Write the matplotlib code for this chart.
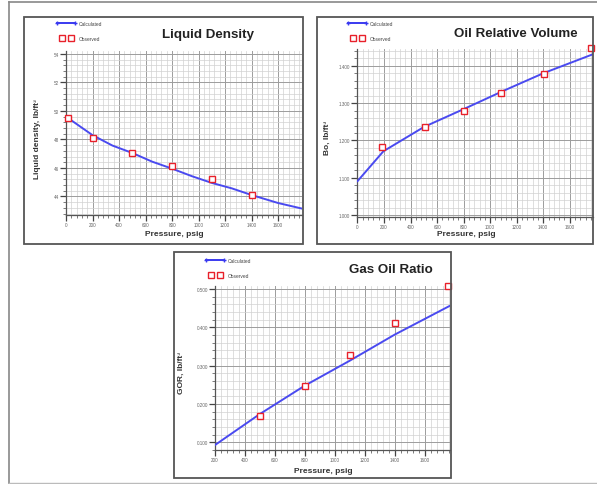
import numpy as np
import matplotlib
matplotlib.use("Agg")
import matplotlib.pyplot as plt
from matplotlib.patches import Rectangle
from matplotlib.lines import Line2D
from matplotlib.legend_handler import HandlerLine2D
from matplotlib.ticker import MultipleLocator, FormatStrFormatter

plt.rcParams['font.family'] = ['Liberation Sans', 'DejaVu Sans']

# liquid density
dens_obs_p = [15, 200, 500, 800, 1100, 1400]
dens_obs = [49.5, 48.1, 47.05, 46.15, 45.2, 44.1]
dens_calc_p = [15, 200, 350, 500, 650, 800, 950, 1100, 1250, 1400, 1600, 1780]
dens_calc = [49.5, 48.3, 47.57, 47.05, 46.44, 45.95, 45.42, 44.95, 44.57, 44.1, 43.54, 43.15]

# oil relative volume
bo_obs_p = [185, 505, 800, 1085, 1405, 1757]
bo_obs = [1.182, 1.237, 1.278, 1.326, 1.379, 1.449]
bo_calc_p = [0, 195, 500, 800, 1100, 1400, 1775]
bo_calc = [1.091, 1.171, 1.236, 1.284, 1.333, 1.380, 1.431]

# gas oil ratio
gor_obs_p = [500, 800, 1100, 1400, 1757]
gor_obs = [0.1695, 0.2477, 0.3286, 0.4105, 0.507]
gor_calc_p = [200, 500, 800, 1100, 1400, 1770]
gor_calc = [0.093, 0.174, 0.248, 0.313, 0.381, 0.4565]

W, H = 597, 485


def frac(x0, y0, x1, y1):
    # pixel box -> figure fraction
    return [x0 / W, 1 - y1 / H, (x1 - x0) / W, (y1 - y0) / H]


def panel(fig, box, axbox, px, py, cp, cy, xlim, ylim, ymaj, fmt,
          title, tpos, ylabel, ylab_pos, xlab_pos, leg_pos):
    fig.patches.append(Rectangle((box[0] / W, 1 - box[3] / H),
                                 (box[2] - box[0]) / W, (box[3] - box[1]) / H,
                                 transform=fig.transFigure, fill=False,
                                 edgecolor='#555555', linewidth=1.3))
    ax = fig.add_axes(frac(*axbox))
    ax.set_xlim(*xlim)
    ax.set_ylim(*ylim)
    ax.xaxis.set_major_locator(MultipleLocator(200))
    ax.xaxis.set_minor_locator(MultipleLocator(40))
    ax.yaxis.set_major_locator(MultipleLocator(ymaj))
    ax.yaxis.set_minor_locator(MultipleLocator(ymaj / 5))
    ax.yaxis.set_major_formatter(FormatStrFormatter(fmt))
    ax.grid(which='major', color='#9c9c9c', linewidth=0.7)
    ax.grid(which='minor', color='#d2d2d2', linewidth=0.5)
    ax.set_axisbelow(True)
    for s in ['top', 'right']:
        ax.spines[s].set_visible(False)
    for s in ['left', 'bottom']:
        ax.spines[s].set_color('#555555')
        ax.spines[s].set_linewidth(0.9)
    ax.tick_params(which='major', length=4, width=0.9, color='#444444',
                   labelsize=3.3, labelcolor='#666666', pad=1.2)
    ax.tick_params(which='minor', length=2, width=0.6, color='#666666')

    ax.plot(cp, cy, color='#4a4af0', linewidth=1.4, zorder=3)
    ax.plot(px, py, linestyle='none', marker='s', markersize=4.8,
            markerfacecolor='white', markeredgecolor='#e8202a',
            markeredgewidth=1.0, zorder=4, clip_on=False)

    ax.set_xlabel('Pressure, psig', fontsize=6, fontweight='bold', color='#333333')
    ax.xaxis.set_label_coords(*xlab_pos)
    ax.xaxis.label.set_va('center')
    ax.set_ylabel(ylabel, fontsize=6, fontweight='bold', color='#333333')
    ax.yaxis.set_label_coords(*ylab_pos)
    ax.yaxis.label.set_va('center')

    fig.text(tpos[0] / W, 1 - tpos[1] / H, title, fontsize=9.6,
             fontweight='bold', color='#222222', ha='center', va='center')

    calc_h = Line2D([], [], color='#3a3af0', linewidth=1.4, marker='+',
                    markersize=3)
    obs_h = Line2D([], [], linestyle='none', marker='s', markersize=3.8,
                   markerfacecolor='white', markeredgecolor='#e8202a',
                   markeredgewidth=1.0)
    fig.legend([calc_h, obs_h], ['Calculated', 'Observed'], loc='upper left',
               bbox_to_anchor=(leg_pos[0] / W, 1 - leg_pos[1] / H),
               frameon=False, fontsize=3.5, numpoints=2, handlelength=4.2,
               handletextpad=0.4, labelspacing=2.0, borderpad=0,
               borderaxespad=0, labelcolor='#444444',
               handler_map={obs_h: HandlerLine2D(numpoints=2, marker_pad=1.2)})
    return ax


def main():
    fig = plt.figure(figsize=(W / 100, H / 100), dpi=100)

    # outer frame (top, left, bottom)
    fig.add_artist(Line2D([9 / W, 1], [1 - 3 / H, 1 - 3 / H], color='#888888',
                          linewidth=1.2, transform=fig.transFigure))
    fig.add_artist(Line2D([9 / W, 9 / W], [1 - 3 / H, 1 - 484 / H], color='#888888',
                          linewidth=1.2, transform=fig.transFigure))
    fig.add_artist(Line2D([9 / W, 1], [1 - 484 / H, 1 - 484 / H], color='#bbbbbb',
                          linewidth=1.0, transform=fig.transFigure))

    panel(fig, (24, 18, 303, 245), (66, 52, 302, 216),
          dens_obs_p, dens_obs, dens_calc_p, dens_calc,
          (0, 1780), (42.7, 54.2), 2, '%d',
          'Liquid Density', (208, 35), 'Liquid density, lb/ft\u00b3',
          (-0.12, 0.47), (0.46, -0.11), (56, 22))

    panel(fig, (317, 18, 593, 245), (357.5, 50, 593, 218),
          bo_obs_p, bo_obs, bo_calc_p, bo_calc,
          (0, 1775), (0.995, 1.445), 0.1, '%.3f',
          'Oil Relative Volume', (516, 34), 'Bo, lb/ft\u00b3',
          (-0.13, 0.476), (0.464, -0.1), (347, 22))

    panel(fig, (174, 253, 451, 479), (215, 287, 450, 451),
          gor_obs_p, gor_obs, gor_calc_p, gor_calc,
          (200, 1770), (0.080, 0.508), 0.1, '%.3f',
          'Gas Oil Ratio', (391, 270), 'GOR, lb/ft\u00b3',
          (-0.142, 0.476), (0.46, -0.122), (205, 259))

    fig.savefig('out.png', dpi=100)


if __name__ == "__main__":
    main()
